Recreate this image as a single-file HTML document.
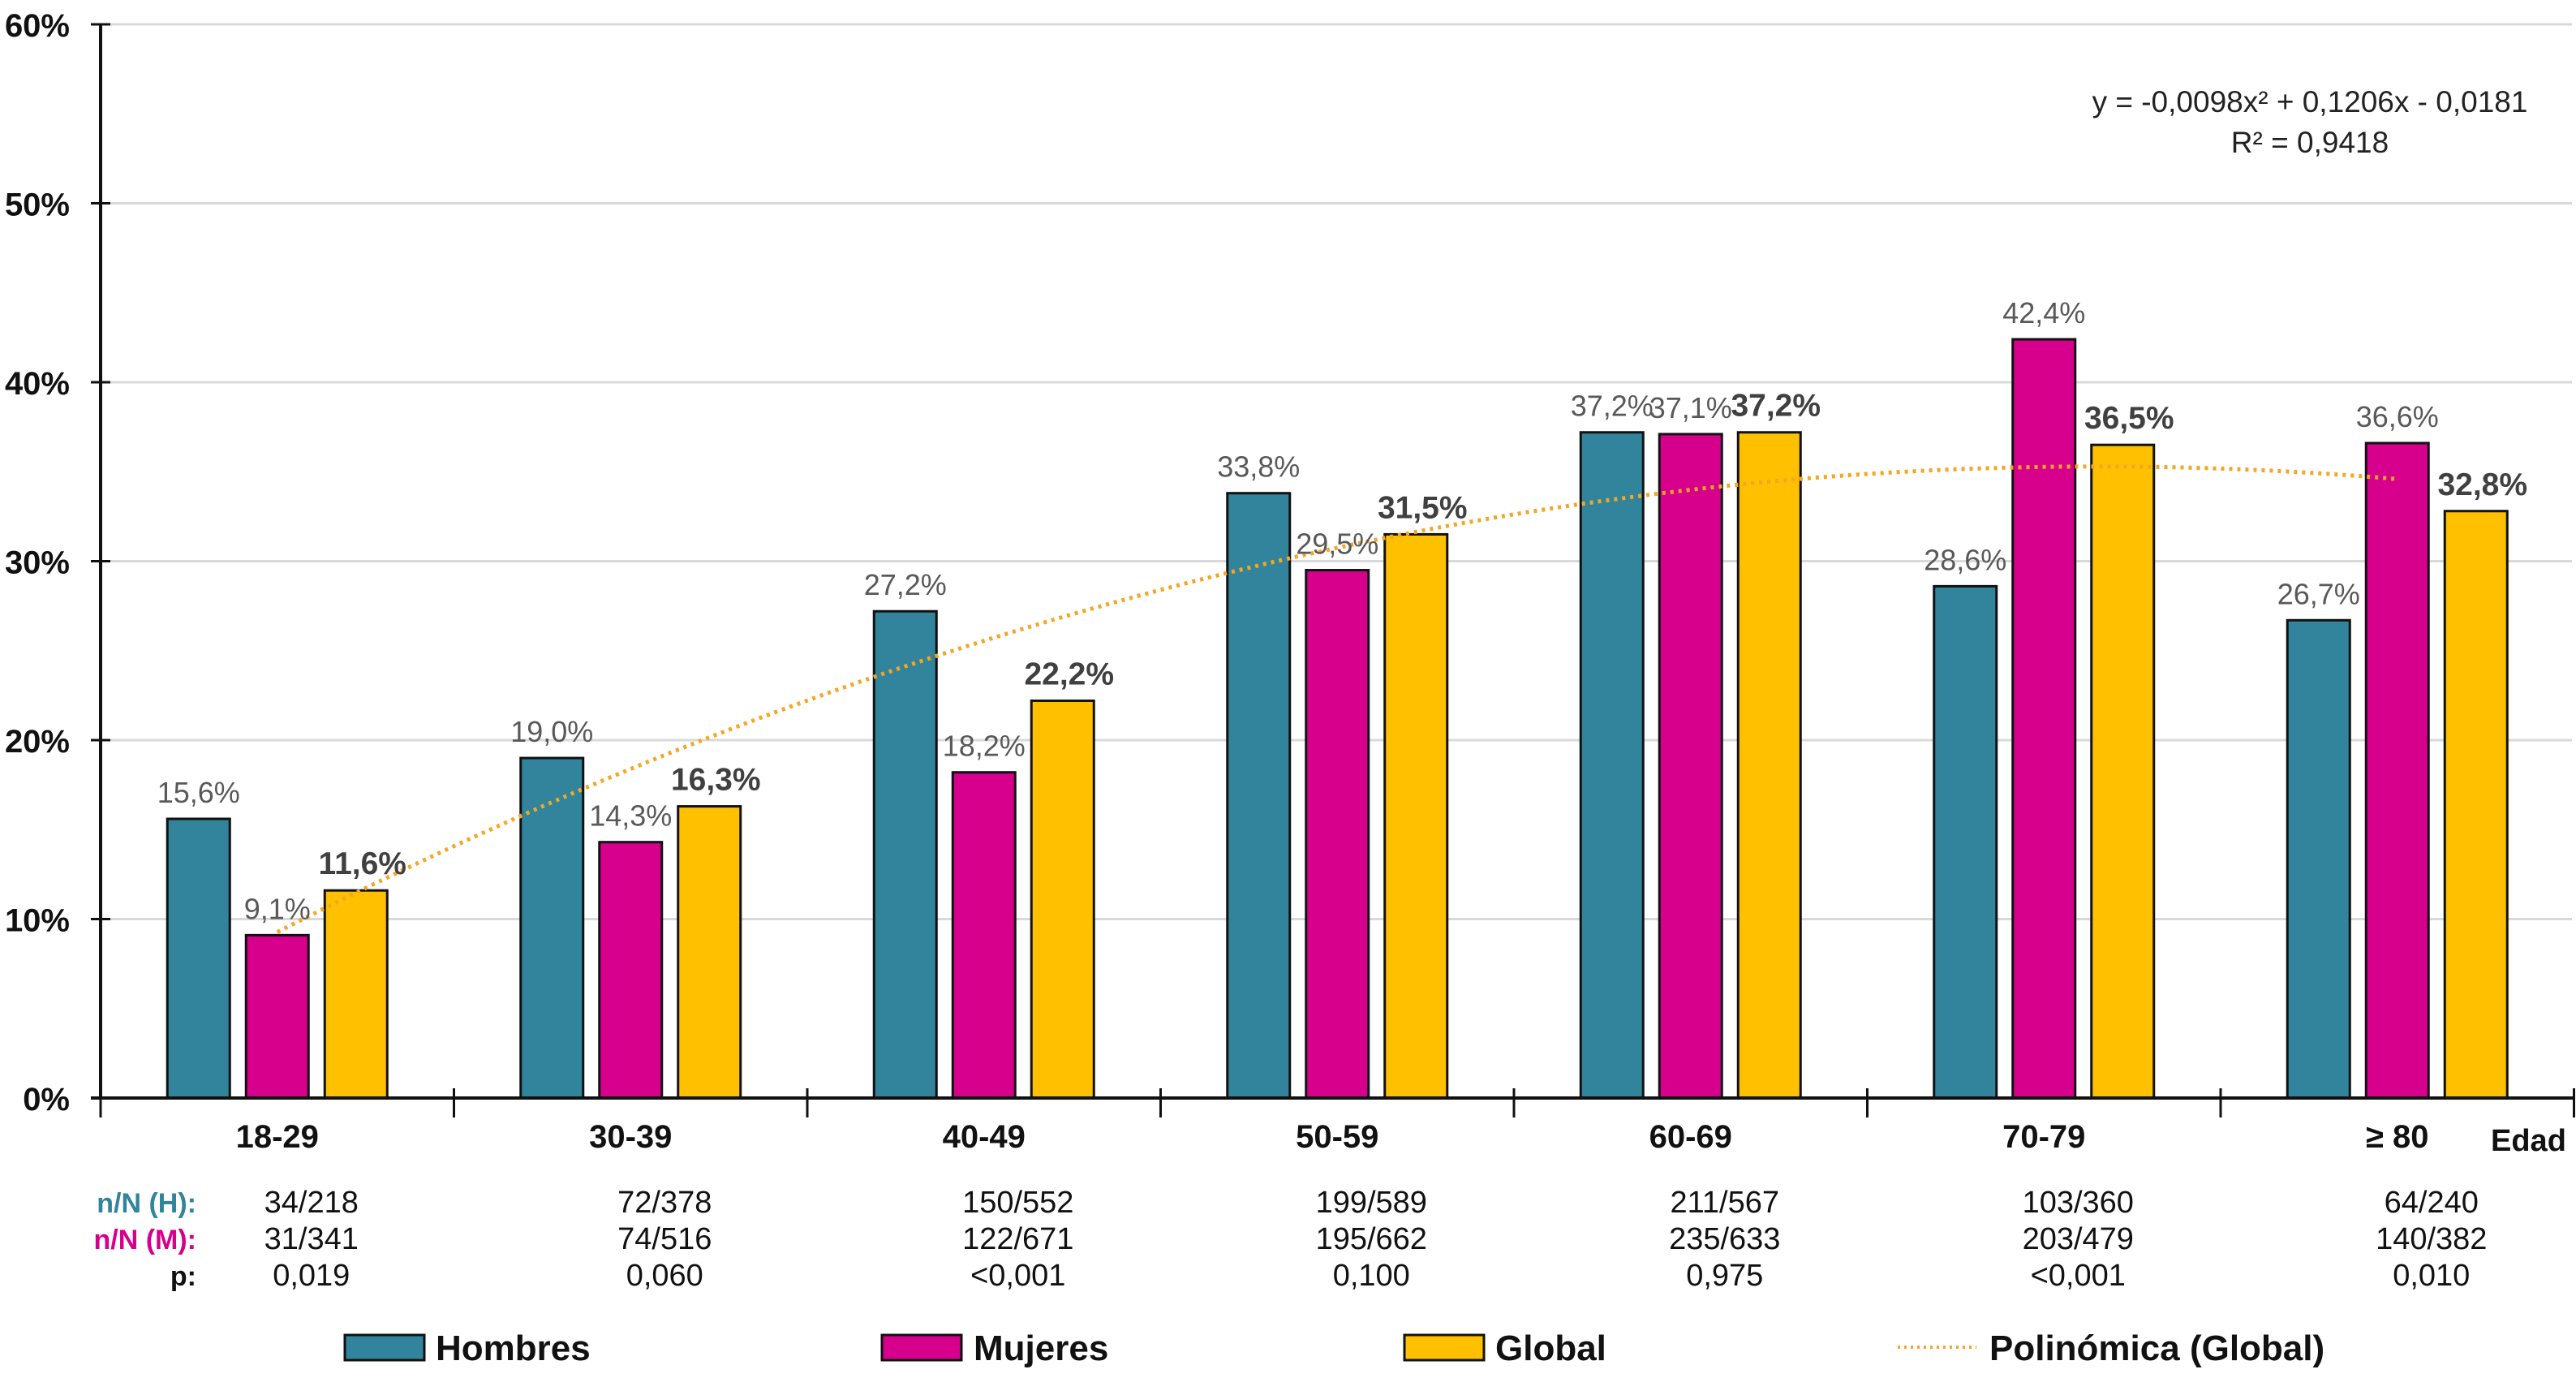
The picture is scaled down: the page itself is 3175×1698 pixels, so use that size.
<!DOCTYPE html>
<html><head><meta charset="utf-8"><style>
html,body{margin:0;padding:0;background:#fff;}
svg{display:block;font-family:"Liberation Sans",Arial,sans-serif;}
</style></head><body>
<svg id="chart" width="3175" height="1698" viewBox="0 0 3175 1698" xmlns="http://www.w3.org/2000/svg">
<g id="grid"></g>
<g id="bars"></g>
<g id="trend"></g>
<g id="axes"></g>
<g id="labels"></g>
<g id="table"></g>
<text x="2847" y="138" text-anchor="middle" font-size="37" fill="#222">y = -0,0098x² + 0,1206x - 0,0181</text>
<text x="2847" y="188" text-anchor="middle" font-size="37" fill="#222">R² = 0,9418</text>
<g>
  <g><rect x="425" y="1645" width="98" height="31" fill="#31849B" stroke="#111" stroke-width="3"/><text x="537" y="1676" font-size="44" font-weight="bold" fill="#111">Hombres</text></g>
  <g><rect x="1087" y="1645" width="98" height="31" fill="#D6008C" stroke="#111" stroke-width="3"/><text x="1200" y="1676" font-size="44" font-weight="bold" fill="#111">Mujeres</text></g>
  <g><rect x="1731" y="1645" width="98" height="31" fill="#FFC000" stroke="#111" stroke-width="3"/><text x="1843" y="1676" font-size="44" font-weight="bold" fill="#111">Global</text></g>
  <g><line x1="2339" y1="1660" x2="2436" y2="1660" stroke="#F5A623" stroke-width="4" stroke-dasharray="3,5"/><text x="2452" y="1676" font-size="44" font-weight="bold" fill="#111">Polinómica (Global)</text></g>
</g>
</svg>
<script>
const categories = ["18-29","30-39","40-49","50-59","60-69","70-79","≥ 80"];
const hombres = [15.6,19.0,27.2,33.8,37.2,28.6,26.7];
const mujeres = [9.1,14.3,18.2,29.5,37.1,42.4,36.6];
const globalV = [11.6,16.3,22.2,31.5,37.2,36.5,32.8];
const yTicks = [0,10,20,30,40,50,60];
const nH = ["34/218","72/378","150/552","199/589","211/567","103/360","64/240"];
const nM = ["31/341","74/516","122/671","195/662","235/633","203/479","140/382"];
const pVals = ["0,019","0,060","<0,001","0,100","0,975","<0,001","0,010"];
const trendCoef = [-0.0098,0.1206,-0.0181];

const NS="http://www.w3.org/2000/svg";
const X0=124, CW=435.5, Y0=1353, Y60=30;
const y=v=>Y0-(v/60)*(Y0-Y60);
const cx=i=>X0+CW*(i+0.5);
function mk(tag,attrs,parent,txt){const e=document.createElementNS(NS,tag);for(const k in attrs)e.setAttribute(k,attrs[k]);if(txt!==undefined)e.textContent=txt;parent.appendChild(e);return e;}
const grid=document.getElementById('grid'),bars=document.getElementById('bars'),axes=document.getElementById('axes'),labels=document.getElementById('labels'),table=document.getElementById('table'),trend=document.getElementById('trend');
const fmt=v=>v.toFixed(1).replace('.',',')+'%';

yTicks.forEach(t=>{
  if(t>0){const g=mk('line',{x1:X0,x2:3170,y1:y(t),y2:y(t),stroke:'#d9d9d9','stroke-width':3},grid);
  
  }
  const tk=mk('line',{x1:X0-12,x2:X0+12,y1:y(t),y2:y(t),stroke:'#111','stroke-width':3},axes);
  
  
  const tl=mk('text',{x:X0-38,y:y(t)+15,'text-anchor':'end','font-size':40,'font-weight':'bold',fill:'#111'},axes,t+'%');
  
  
});

const series=[{v:hombres,c:'#31849B',n:'hombres',off:-97},{v:mujeres,c:'#D6008C',n:'mujeres',off:0},{v:globalV,c:'#FFC000',n:'global',off:97}];
const BW=77;
categories.forEach((cat,i)=>{
  series.forEach(s=>{
    const v=s.v[i], bx=cx(i)+s.off-BW/2;
    const r=mk('rect',{x:bx,y:y(v),width:BW,height:Y0-y(v),fill:s.c,stroke:'#111','stroke-width':3},bars);
    
    
    const isG=s.n==='global';
    const l=mk('text',{x:bx+BW/2+(isG?8:0),y:y(v)-20,'text-anchor':'middle','font-size':isG?39:36,'font-weight':isG?'bold':'normal',fill:isG?'#404040':'#595959'},labels,fmt(v));
    
    
  });
  const cl=mk('text',{x:cx(i),y:1414,'text-anchor':'middle','font-size':40,'font-weight':'bold',fill:'#111'},axes,cat);
  
  
  [[nH,1494],[nM,1539],[pVals,1584]].forEach(([arr,yy])=>{
    const t=mk('text',{x:cx(i)+42,y:yy,'text-anchor':'middle','font-size':38,fill:'#111'},table,arr[i]);
    
    
  });
});
for(let i=0;i<=7;i++){
  const t=mk('line',{x1:X0+CW*i,x2:X0+CW*i,y1:Y0-12,y2:Y0+24,stroke:'#111','stroke-width':3},axes);
  
  
}
const ax=mk('line',{x1:X0,x2:X0,y1:Y60,y2:Y0,stroke:'#111','stroke-width':4},axes);


const xa=mk('line',{x1:X0-12,x2:3172,y1:Y0,y2:Y0,stroke:'#111','stroke-width':4},axes);


const ed=mk('text',{x:3070,y:1418,'font-size':38,'font-weight':'bold',fill:'#111'},axes,'Edad');


[['n/N (H):','#31849B',1494],['n/N (M):','#D6008C',1539],['p:','#111',1584]].forEach(([t,c,yy])=>{
  const e=mk('text',{x:242,y:yy,'text-anchor':'end','font-size':34,'font-weight':'bold',fill:c},table,t);
  
  
});
let d='';
for(let k=0;k<=120;k++){const xv=1+6*k/120;const v=(trendCoef[0]*xv*xv+trendCoef[1]*xv+trendCoef[2])*100;const px=X0+CW*(xv-0.5);d+=(k?'L':'M')+px.toFixed(1)+','+y(v).toFixed(1);}
const tp=mk('path',{d:d,fill:'none',stroke:'#F5A623','stroke-width':5,'stroke-dasharray':'4,6'},trend);


</script>
</body></html>
